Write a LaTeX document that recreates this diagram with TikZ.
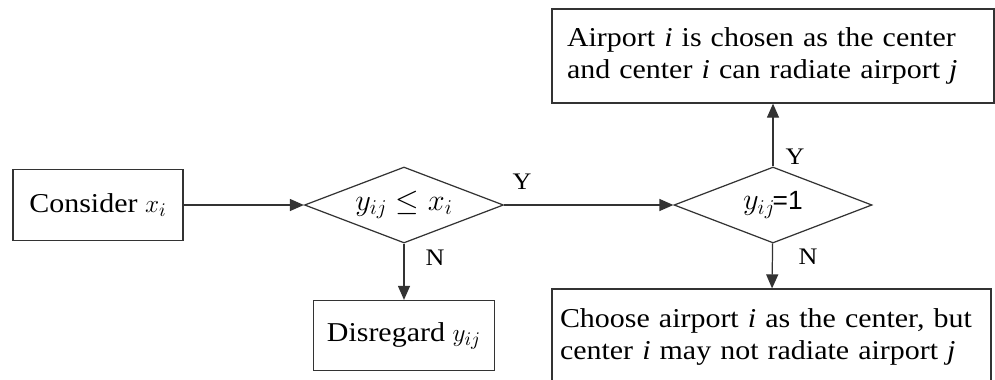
\documentclass[tikz,border=0pt]{standalone}
\usepackage{fontspec}
\setmainfont[FakeStretch=1.1]{Liberation Serif}
\newfontfamily\labsans{Liberation Sans}
\usetikzlibrary{arrows.meta,positioning,shapes.geometric}

\begin{document}
\begin{tikzpicture}[
  font=\fontsize{15.5}{18.5}\selectfont,
  proc/.style={draw=black!80, line width=0.7pt, rectangle, inner sep=2pt, align=center},
  wide/.style={proc, align=left, inner xsep=0pt},
  test/.style={draw=black!80, line width=0.7pt, diamond, aspect=2.6, inner sep=0pt,
               minimum width=3.98cm, minimum height=1.52cm},
  flow/.style={-{Triangle[length=2.8mm,width=2.4mm]}, line width=0.7pt, black!80},
  yn/.style={font=\fontsize{13.5}{16}\selectfont, inner sep=0pt}
]
\useasboundingbox (0,0) rectangle (19.9,7.58);
% --- nodes -----------------------------------------------------------------
\node[proc, minimum width=3.4cm, minimum height=1.42cm] (cons) at (1.96,3.48)
  {Consider $x_i$};
\node[test] (cmp) at (8.08,3.48) {\fontsize{17}{20}\selectfont $y_{ij} \leq x_i$};
\node[proc, minimum width=3.62cm, minimum height=1.4cm] (drop) at (8.08,0.87)
  {Disregard $y_{ij}$};
\node[test, minimum width=3.96cm] (one) at (15.46,3.48)
  {\fontsize{17}{20}\selectfont $y_{ij}$\kern-1.5pt{\labsans\fontsize{15}{18}\selectfont =1}};
\node[wide, minimum width=8.84cm, minimum height=1.88cm,
      text width=8.24cm] (hub) at (15.46,6.46)
  {Airport \textit{i} is chosen as the center\\and center \textit{i} can radiate airport \textit{j}};
\node[wide, minimum width=8.78cm, minimum height=1.92cm,
      text width=8.46cm] (part) at (15.43,0.84)
  {Choose airport \textit{i} as the center, but\\center \textit{i} may not radiate airport \textit{j}};

% --- edges -----------------------------------------------------------------
\draw[flow] (cons) -- (cmp);
\draw[flow] (cmp) -- (one);
\draw[flow] (cmp) -- (drop);
\draw[flow] (one) -- (hub);
\draw[flow] (one) -- (part);

% --- branch labels ---------------------------------------------------------
\node[yn] (y1) at (10.44,3.94) {Y};
\node[yn] (n1) at (8.70,2.42) {N};
\node[yn] (y2) at (15.90,4.44) {Y};
\node[yn] (n2) at (16.16,2.44) {N};
\end{tikzpicture}
\end{document}
